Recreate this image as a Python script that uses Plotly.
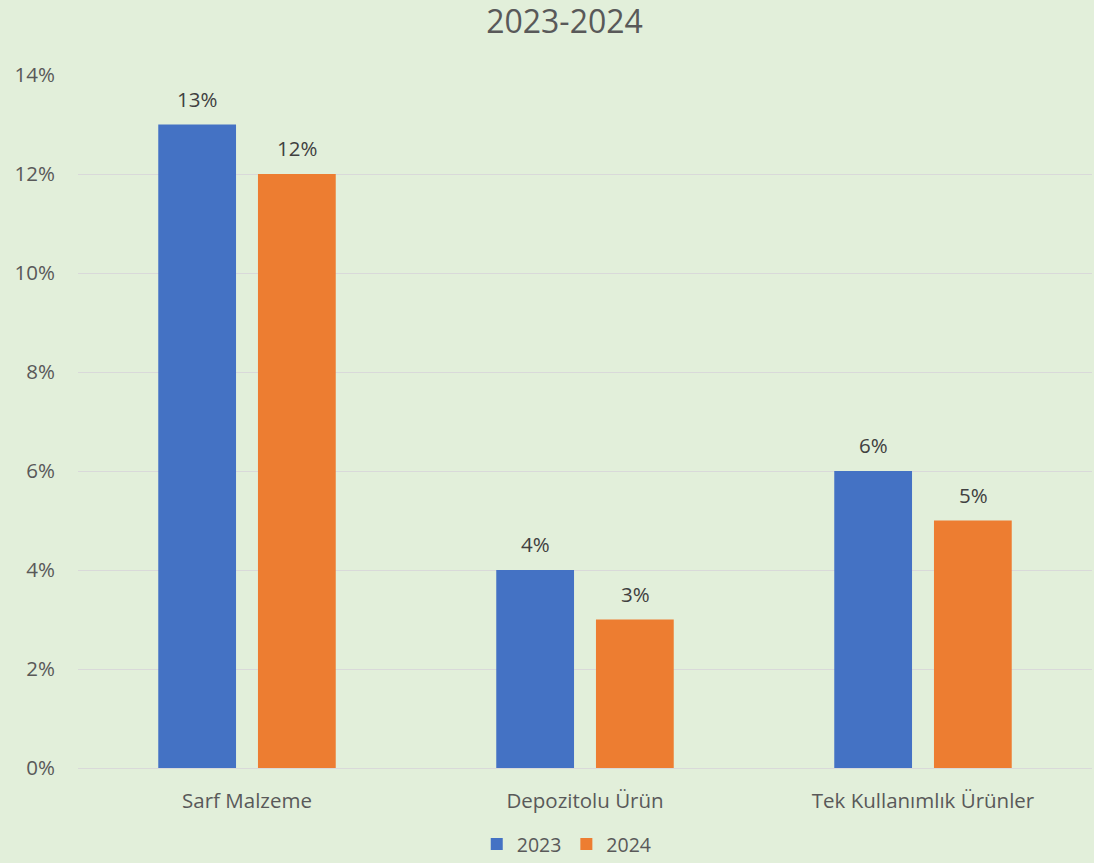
import plotly.graph_objects as go

# Categories and yearly shares
categories = ["Sarf Malzeme", "Depozitolu Ürün", "Tek Kullanımlık Ürünler"]
values_2023 = [0.13, 0.04, 0.06]
values_2024 = [0.12, 0.03, 0.05]
series_names = ["2023", "2024"]
tick_values = [0, 0.02, 0.04, 0.06, 0.08, 0.10, 0.12, 0.14]

BG = "#E2EFDA"
TEXT = "#595959"
GRID = "#D9D9D9"
FONT = "Open Sans"
colors = ["#4472C4", "#ED7D31"]

fig = go.Figure()
for name, vals, col in zip(series_names, [values_2023, values_2024], colors):
    fig.add_trace(go.Bar(
        name=name, x=categories, y=vals, marker=dict(color=col, line=dict(width=0)),
        hoverinfo="skip",
    ))

# Value labels placed above each bar
offsets = [-50, 50]
for vals, dx in zip([values_2023, values_2024], offsets):
    for cat, v in zip(categories, vals):
        fig.add_annotation(
            x=cat, y=v, xref="x", yref="y", text=f"{v:.0%}", showarrow=False,
            xshift=dx, yshift=26, yanchor="middle",
            font=dict(family=FONT, size=20.5, color="#404040"),
        )

fig.update_layout(
    width=1094, height=863,
    paper_bgcolor=BG, plot_bgcolor=BG,
    margin=dict(l=78, r=2, t=75, b=95, autoexpand=False),
    barmode="group", bargap=0.41, bargroupgap=0.22,
    title=dict(text="2023-2024", xref="container", x=0.516, xanchor="center",
               yref="container", y=0.975, yanchor="middle",
               font=dict(family=FONT, size=32, color=TEXT)),
    font=dict(family=FONT, size=20.5, color=TEXT),
    legend=dict(orientation="h", xref="paper", x=0.482, xanchor="center",
                yref="paper", y=-0.11, yanchor="middle",
                font=dict(family=FONT, size=19.5, color=TEXT),
                itemwidth=30, bgcolor="rgba(0,0,0,0)"),
    showlegend=True,
)
fig.update_yaxes(
    range=[0, 0.14], tickvals=tick_values, tickformat=".0%",
    showgrid=True, gridcolor=GRID, gridwidth=1,
    zeroline=False, showline=False, ticks="",
    tickfont=dict(family=FONT, size=20.5, color=TEXT),
    ticklabelstandoff=22,
)
fig.update_xaxes(
    showline=True, linecolor=GRID, linewidth=1, ticks="",
    tickfont=dict(family=FONT, size=20.5, color=TEXT),
    ticklabelstandoff=14,
)

fig.write_html("out.html")
